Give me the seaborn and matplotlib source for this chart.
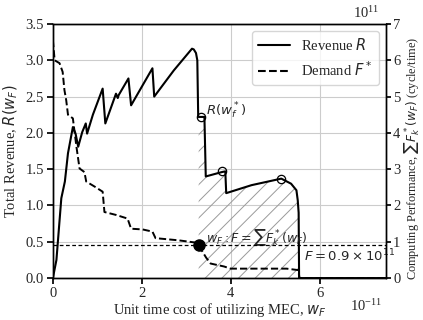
import numpy as np
import matplotlib
matplotlib.use('Agg')
import matplotlib.pyplot as plt
from matplotlib.lines import Line2D
import seaborn as sns

# unit time cost w_F (x 1e-11)
w_rev = [0, 0.08, 0.19, 0.27, 0.34, 0.45, 0.51, 0.57, 0.66, 0.74, 0.77, 0.9, 1.12, 1.18,
         1.42, 1.46, 1.48, 1.7, 1.76, 2.24, 2.28, 2.72, 3.13, 3.17, 3.22, 3.25, 3.27,
         3.41, 3.44, 3.8, 3.88, 3.9, 4.47, 5.14, 5.36, 5.48, 5.51, 5.53, 5.54, 7.5]
# total revenue R(w_F)
revenue = [0, 0.25, 1.1, 1.33, 1.72, 2.08, 1.99, 1.81, 2.01, 2.13, 1.99, 2.25, 2.61, 2.13,
           2.54, 2.48, 2.52, 2.75, 2.38, 2.89, 2.5, 2.86, 3.16, 3.15, 3.1, 3.0, 2.22,
           2.22, 1.4, 1.46, 1.47, 1.17, 1.28, 1.37, 1.3, 1.21, 1.07, 0.9, 0, 0]

w_dem = [0, 0.04, 0.15, 0.22, 0.26, 0.3, 0.34, 0.45, 0.53, 0.6, 0.71, 0.75, 0.94, 1.12,
         1.16, 1.42, 1.68, 1.76, 2.02, 2.24, 2.31, 2.83, 3.2, 3.28, 3.45, 3.55, 3.85,
         4.0, 5.26, 5.52, 5.55, 7.5]
# demand sum F_k^*(w_F) (x 1e11 cycle/time)
demand = [6.56, 6.0, 5.92, 5.68, 5.18, 4.9, 4.5, 4.4, 3.62, 3.02, 2.92, 2.66, 2.52, 2.38,
          1.82, 1.74, 1.64, 1.36, 1.34, 1.28, 1.1, 1.04, 0.98, 0.9, 0.56, 0.4, 0.32,
          0.26, 0.26, 0.22, 0, 0]

F_cap = 0.9
w_star = 3.28
w_end = 5.53
circ_w = [3.33, 3.8, 5.14]
circ_R = [2.22, 1.47, 1.37]

sns.set_theme(style='ticks')
plt.rcParams['font.family'] = ['Liberation Serif', 'DejaVu Sans']
plt.rcParams['mathtext.fontset'] = 'dejavusans'
plt.rcParams['hatch.linewidth'] = 0.7

fig = plt.figure(figsize=(4.23, 3.2), dpi=100)
ax = fig.add_axes([0.125, 0.131, 0.788, 0.794])
ax2 = ax.twinx()

# hatched area under revenue between w* and cutoff
wr = np.array(w_rev)
rr = np.array(revenue)
m = (wr > w_star) & (wr <= w_end)
hw = np.concatenate([[w_star], wr[m]])
hr = np.concatenate([[np.interp(w_star, wr, rr)], rr[m]])
ax.fill_between(hw, 0, hr, facecolor='none', edgecolor='#9a9a9a', hatch='//', linewidth=0)

sns.lineplot(x=w_rev, y=revenue, ax=ax, color='black', lw=1.5, estimator=None, sort=False)
ax.plot(circ_w, circ_R, 'o', mfc='none', mec='black', ms=6, mew=0.9)

sns.lineplot(x=w_dem, y=demand, ax=ax2, color='black', lw=1.4, linestyle='--',
             estimator=None, sort=False)
ax2.axhline(F_cap, color='black', lw=0.9, linestyle=(0, (3, 2)))
ax2.plot([w_star], [F_cap], 'o', color='black', ms=8)

ax.set_xlim(0, 7.5)
ax.set_ylim(0, 3.5)
ax2.set_ylim(0, 7)
ax.set_xticks([0, 2, 4, 6])
ax.set_yticks(np.arange(0, 3.51, 0.5))
ax.set_yticklabels([f'{v:.1f}' for v in np.arange(0, 3.51, 0.5)])
ax2.set_yticks(range(8))
ax.grid(True, color='#cccccc', lw=0.8)
ax2.grid(False)
for a in (ax, ax2):
    a.tick_params(labelsize=10.5, length=4, color='black', pad=2.5)
    for s in a.spines.values():
        s.set_color('black')
        s.set_linewidth(1.0)
ax2.tick_params(pad=1.5, length=3.5)

ax.set_xlabel(r'Unit time cost of utilizing MEC, $w_F$', fontsize=10.5, labelpad=0.5)
ax.set_ylabel(r'Total Revenue, $R(w_F)$', fontsize=10.5, labelpad=4)
# right axis label placed in figure coords so it stays inside the canvas
fig.text(0.998, 0.506, r'Computing Performance, $\sum F_k^*(w_F)$ (cycle/time)',
         fontsize=8.8, rotation=90, ha='right', va='center')

ax.text(3.45, 2.3, r'$R(w_f^*)$', fontsize=9.5, va='center', ha='left')
ax.text(3.45, 0.56, r'$w_F: F=\sum F_k^*(w_F)$', fontsize=9, va='center', ha='left')
ax.text(5.65, 0.31, r'$F=0.9\times10^{11}$', fontsize=9.5, va='center', ha='left')

fig.text(0.865, 0.96, r'$\mathdefault{10^{11}}$', fontsize=10.5, ha='center', va='center')
fig.text(0.865, 0.045, r'$\mathdefault{10^{-11}}$', fontsize=10.5, ha='center', va='center')

handles = [Line2D([], [], color='black', lw=1.5),
           Line2D([], [], color='black', lw=1.5, linestyle='--')]
ax2.legend(handles, [r'Revenue $R$', r'Demand $F^*$'], loc='upper right', fontsize=10.5,
           frameon=True, handlelength=2.2)

fig.savefig('out.png', dpi=100)
